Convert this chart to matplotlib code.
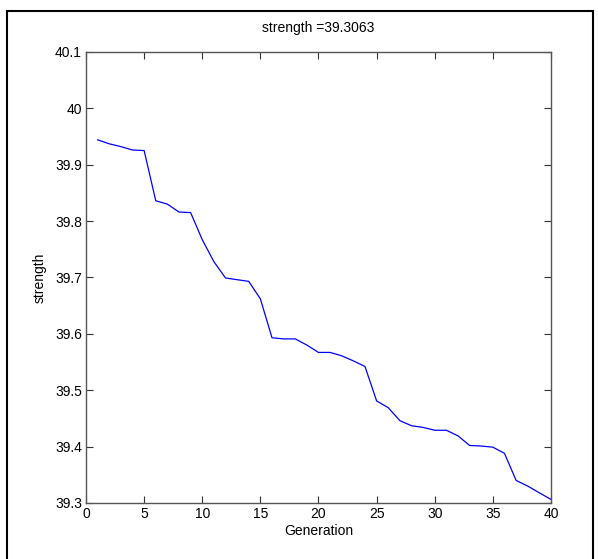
import numpy as np
from matplotlib import pyplot as plt
from matplotlib.patches import Rectangle

plt.rcParams['font.family'] = ['Liberation Sans', 'DejaVu Sans']

generation = list(range(1, 41))
strength = [39.944, 39.937, 39.932, 39.926, 39.925, 39.836, 39.830, 39.816, 39.815, 39.767,
            39.728, 39.699, 39.696, 39.693, 39.662, 39.593, 39.591, 39.591, 39.580, 39.567,
            39.567, 39.561, 39.552, 39.542, 39.481, 39.469, 39.446, 39.437, 39.434, 39.429,
            39.429, 39.419, 39.402, 39.401, 39.399, 39.388, 39.340, 39.330, 39.318, 39.3063]
xticks = [0, 5, 10, 15, 20, 25, 30, 35, 40]
yticks = [39.3, 39.4, 39.5, 39.6, 39.7, 39.8, 39.9, 40.0, 40.1]
ytick_labels = ['39.3', '39.4', '39.5', '39.6', '39.7', '39.8', '39.9', '40', '40.1']

fig = plt.figure(figsize=(5.98, 5.59), dpi=100)
ax = fig.add_axes([0.1438, 0.1002, 0.7776, 0.807])

ax.plot(generation, strength, color='#0000ff', lw=0.9)
ax.set_xlim(0, 40)
ax.set_ylim(39.3, 40.1)
ax.set_xticks(xticks)
ax.set_yticks(yticks)
ax.set_yticklabels(ytick_labels)
ax.tick_params(direction='in', length=5, width=0.8, top=True, right=True,
               labelsize=10, colors='#333333', labelcolor='black', pad=3)
for s in ax.spines.values():
    s.set_color('#555555')
    s.set_linewidth(1.0)

ax.set_xlabel('Generation', fontsize=10, labelpad=2)
ax.set_ylabel('strength', fontsize=10, labelpad=6)
ax.set_title('strength =39.3063', fontsize=10, pad=14)

# outer frame around the figure
fig.patches.append(Rectangle((7 / 598, -0.01), 586 / 598, 1.01 - 11 / 559,
                             transform=fig.transFigure, fill=False,
                             edgecolor='black', lw=1.5))

plt.savefig('out.png', dpi=100)
